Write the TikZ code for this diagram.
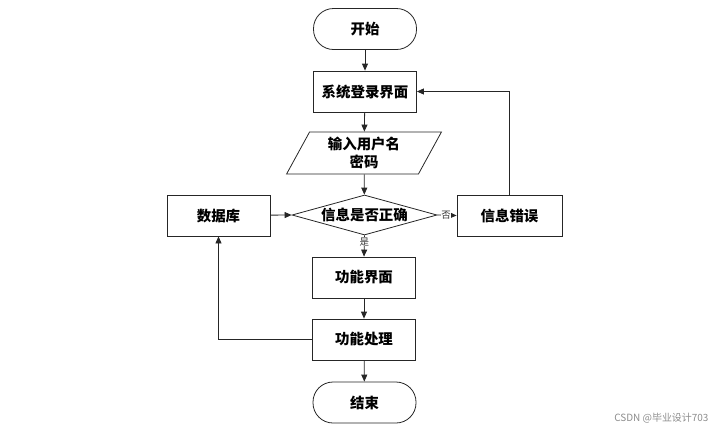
\documentclass[tikz,border=0pt]{standalone}
\usepackage{fontspec}
\newfontfamily\cjk{Noto Sans CJK SC}
\usetikzlibrary{arrows.meta,shapes.geometric,positioning}
\tikzset{
  box/.style={draw=black!85, line width=0.8bp, rectangle, minimum width=103bp, minimum height=41bp, inner sep=0pt, font=\cjk\bfseries\fontsize{14.5}{17}\selectfont},
  term/.style={box, rounded corners=20bp},
  para/.style={draw=black!85, line width=0.8bp, trapezium, trapezium left angle=64, trapezium right angle=116, trapezium stretches=true, minimum width=155bp, minimum height=42bp, inner sep=0pt, align=center, font=\cjk\bfseries\fontsize{14.5}{17.5}\selectfont},
  decision/.style={draw=black!85, line width=0.8bp, diamond, shape aspect=3.6, minimum width=145bp, minimum height=40bp, inner sep=0pt, font=\cjk\bfseries\fontsize{14.5}{17}\selectfont},
  arr/.style={draw=black!85, line width=0.8bp, -{Triangle[length=7bp,width=6bp]}},
  lbl/.style={font=\cjk\fontsize{9.5}{10}\selectfont, text=black!80, inner sep=0.5pt, fill=white}
}
\begin{document}
\begin{tikzpicture}[x=1bp,y=-1bp]
\useasboundingbox (0,0) rectangle (721,431);
\node[term] (start) at (365,29) {开始};
\node[box] (login) at (365,91.5) {系统登录界面};
\node[para] (input) at (364,153) {输入用户名\\密码};
\node[decision] (dec) at (364.5,215) {信息是否正确};
\node[box] (db) at (218.5,215.5) {数据库};
\node[box, minimum width=105bp] (err) at (509.5,215.5) {信息错误};
\node[box] (func) at (364,277.5) {功能界面};
\node[box] (proc) at (364,339.5) {功能处理};
\node[term] (end) at (364.5,402.5) {结束};

\draw[arr] (start) -- (login);
\draw[arr] (login) -- (input);
\draw[arr] (input) -- (dec);
\draw[arr] (db) -- (dec.west);
\draw[arr] (dec.east) -- node[lbl, pos=0.45]{否} (err.west);
\draw[arr] (dec.south) -- node[lbl, pos=0.3]{是} (func.north);
\draw[arr] (func) -- (proc);
\draw[arr] (proc) -- (end);
\draw[arr] (proc.west) -| (db.south);
\draw[arr] (err.north) |- (login.east);

\node[font=\cjk\fontsize{10}{12}\selectfont, text=black!45, anchor=east] (wm) at (712,418) {CSDN @毕业设计703};
\end{tikzpicture}
\end{document}
